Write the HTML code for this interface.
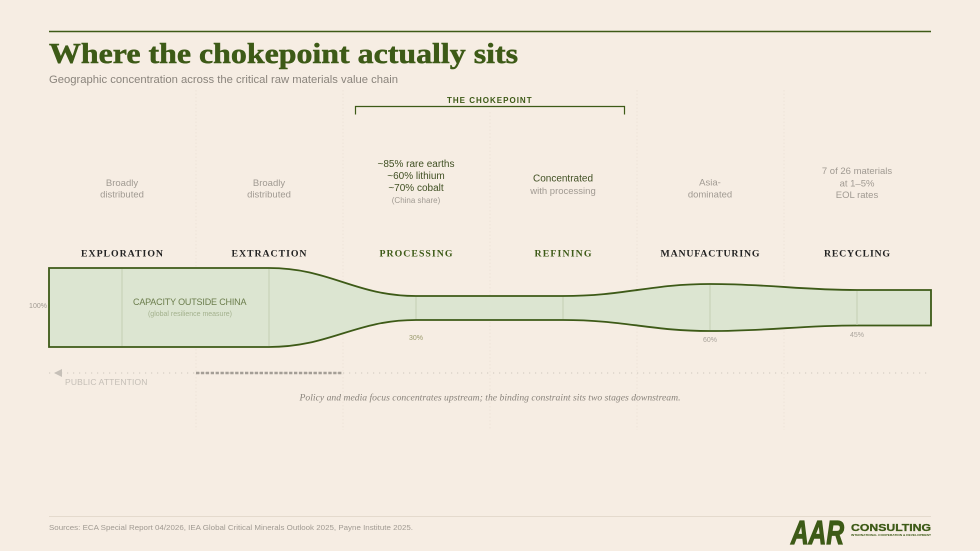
<!DOCTYPE html>
<html>
<head>
<meta charset="utf-8">
<style>
html,body{margin:0;padding:0;background:#f6ede3;}
svg{display:block;}
</style>
</head>
<body>
<svg width="980" height="551" viewBox="0 0 980 551" xmlns="http://www.w3.org/2000/svg">
<rect x="0" y="0" width="980" height="551" fill="#f6ede3"/>

<!-- top rule -->
<line x1="49" y1="31.5" x2="931" y2="31.5" stroke="#3d5a17" stroke-width="1.5"/>

<!-- title -->
<text x="49" y="63" font-family="Liberation Serif, serif" font-weight="bold" font-size="29" fill="#3d5a17" stroke="#3d5a17" stroke-width="0.5" textLength="469" lengthAdjust="spacingAndGlyphs">Where the chokepoint actually sits</text>
<text x="49" y="83" font-family="Liberation Sans, sans-serif" font-size="11" fill="#8a847c" textLength="349" lengthAdjust="spacingAndGlyphs">Geographic concentration across the critical raw materials value chain</text>

<!-- faint column dividers -->
<g stroke="#ede4d8" stroke-width="1" stroke-dasharray="1.5 2">
<line x1="196" y1="90" x2="196" y2="430"/>
<line x1="343" y1="90" x2="343" y2="430"/>
<line x1="490" y1="112" x2="490" y2="430"/>
<line x1="637" y1="90" x2="637" y2="430"/>
<line x1="784" y1="90" x2="784" y2="430"/>
</g>

<!-- chokepoint bracket -->
<text x="490" y="103" text-anchor="middle" font-family="Liberation Sans, sans-serif" font-weight="bold" font-size="8" fill="#3d5a17" letter-spacing="1.4" textLength="86" lengthAdjust="spacing">THE CHOKEPOINT</text>
<path d="M355.5,114.5 L355.5,106.5 L624.5,106.5 L624.5,114.5" fill="none" stroke="#3d5a17" stroke-width="1.2"/>

<!-- descriptions -->
<g font-family="Liberation Sans, sans-serif" font-size="9.5" fill="#a09a92" text-anchor="middle">
<text x="122" y="186">Broadly</text>
<text x="122" y="197.5">distributed</text>
<text x="269" y="186">Broadly</text>
<text x="269" y="197.5">distributed</text>
<text x="416" y="167" fill="#3f4f22" font-size="10">~85% rare earths</text>
<text x="416" y="179" fill="#3f4f22" font-size="10">~60% lithium</text>
<text x="416" y="191" fill="#3f4f22" font-size="10">~70% cobalt</text>
<text x="416" y="203" font-size="8">(China share)</text>
<text x="563" y="181.5" fill="#3f4f22" font-size="10">Concentrated</text>
<text x="563" y="194">with processing</text>
<text x="710" y="185.5">Asia-</text>
<text x="710" y="197.5">dominated</text>
<text x="857" y="174">7 of 26 materials</text>
<text x="857" y="186.5">at 1–5%</text>
<text x="857" y="198">EOL rates</text>
</g>

<!-- stage labels -->
<g font-family="Liberation Serif, serif" font-weight="bold" font-size="9.8" text-anchor="middle" lengthAdjust="spacing">
<text x="122" y="256.5" fill="#222" textLength="82">EXPLORATION</text>
<text x="269" y="256.5" fill="#222" textLength="75">EXTRACTION</text>
<text x="416" y="256.5" fill="#3d5a17" textLength="73">PROCESSING</text>
<text x="563" y="256.5" fill="#3d5a17" textLength="57">REFINING</text>
<text x="710" y="256.5" fill="#222" textLength="99">MANUFACTURING</text>
<text x="857" y="256.5" fill="#222" textLength="66">RECYCLING</text>
</g>

<!-- funnel shape -->
<path d="M49,268 L269,268 C330,268 355,296 416,296 L563,296 C625,296 650,284 710,284 C770,284 800,290 857,290 L931,290 L931,325.5 L857,325.5 C800,325.5 770,331 710,331 C650,331 625,320 563,320 L416,320 C355,320 330,347 269,347 L49,347 Z" fill="#dce5d1" stroke="#3d5a17" stroke-width="1.8" stroke-linejoin="miter"/>

<!-- inner stage lines -->
<g stroke="#c3d0b4" stroke-width="1">
<line x1="122" y1="269" x2="122" y2="346"/>
<line x1="269" y1="269" x2="269" y2="346"/>
<line x1="416" y1="297" x2="416" y2="319"/>
<line x1="563" y1="297" x2="563" y2="319"/>
<line x1="710" y1="285" x2="710" y2="330"/>
<line x1="857" y1="291" x2="857" y2="325"/>
</g>

<!-- shape labels -->
<text x="190" y="305" text-anchor="middle" font-family="Liberation Sans, sans-serif" font-size="9" fill="#6b7d4c" letter-spacing="0.5" textLength="114" lengthAdjust="spacing">CAPACITY OUTSIDE CHINA</text>
<text x="190" y="316" text-anchor="middle" font-family="Liberation Sans, sans-serif" font-size="7" fill="#a3b18d">(global resilience measure)</text>
<g font-family="Liberation Sans, sans-serif" font-size="7" fill="#a09a92" text-anchor="middle">
<text x="38" y="308">100%</text>
<text x="416" y="340" fill="#9a9a6c">30%</text>
<text x="710" y="342" fill="#aaa49c">60%</text>
<text x="857" y="337" fill="#aaa49c">45%</text>
</g>

<!-- public attention -->
<line x1="49" y1="373" x2="928" y2="373" stroke="#d6cec4" stroke-width="1.2" stroke-dasharray="1.2 4.8"/>
<polygon points="54,373 62,369 62,377" fill="#c6c0b8"/>
<line x1="196" y1="373" x2="342" y2="373" stroke="#a49e96" stroke-width="2.5" stroke-dasharray="3.3 1.6"/>
<text x="65" y="385" font-family="Liberation Sans, sans-serif" font-size="8.5" fill="#c4beb6" letter-spacing="0.6" textLength="83" lengthAdjust="spacing">PUBLIC ATTENTION</text>

<text x="490" y="400.5" text-anchor="middle" font-family="Liberation Serif, serif" font-style="italic" font-size="9.5" fill="#8a847c" textLength="381" lengthAdjust="spacingAndGlyphs">Policy and media focus concentrates upstream; the binding constraint sits two stages downstream.</text>

<!-- footer -->
<line x1="49" y1="516.5" x2="931" y2="516.5" stroke="#e4dacd" stroke-width="1"/>
<text x="49" y="530" font-family="Liberation Sans, sans-serif" font-size="7.5" fill="#a09a92" textLength="364" lengthAdjust="spacingAndGlyphs">Sources: ECA Special Report 04/2026, IEA Global Critical Minerals Outlook 2025, Payne Institute 2025.</text>

<!-- logo -->
<text x="791" y="544" font-family="Liberation Sans, sans-serif" font-weight="bold" font-style="italic" font-size="33" fill="#3d5a17" stroke="#3d5a17" stroke-width="1.2" textLength="53" lengthAdjust="spacingAndGlyphs">AAR</text>
<text x="851" y="531" font-family="Liberation Sans, sans-serif" font-weight="bold" font-size="10" fill="#3d5a17" stroke="#3d5a17" stroke-width="0.3" textLength="80" lengthAdjust="spacingAndGlyphs">CONSULTING</text>
<text x="851" y="536" font-family="Liberation Sans, sans-serif" font-weight="bold" font-size="3" fill="#3d5a17" textLength="80" lengthAdjust="spacingAndGlyphs">INTERNATIONAL COOPERATION &amp; DEVELOPMENT</text>
</svg>
</body>
</html>
